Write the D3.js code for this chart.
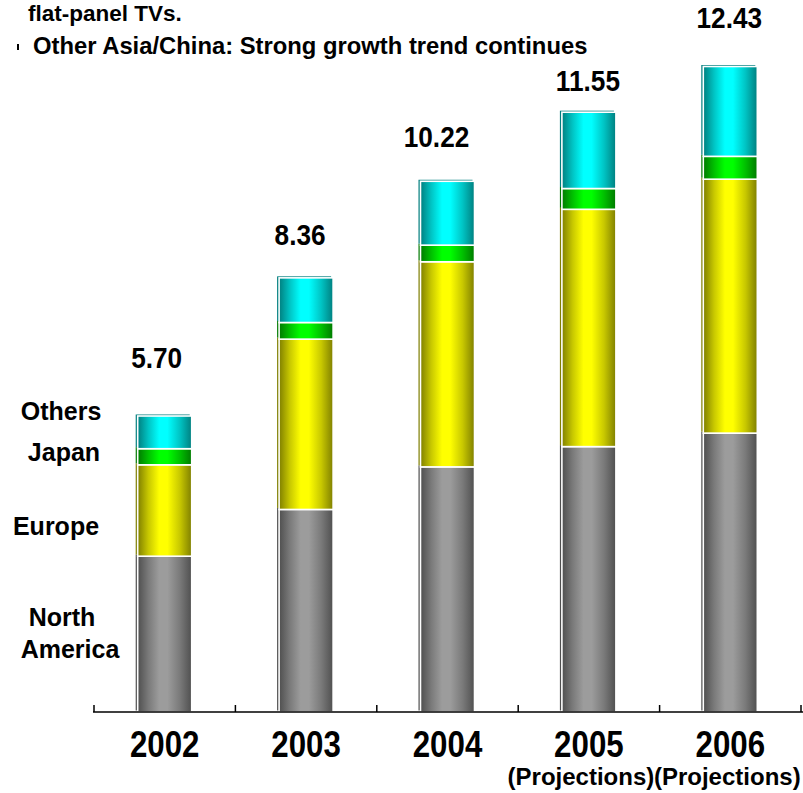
<!DOCTYPE html>
<html>
<head>
<meta charset="utf-8">
<script src="https://cdn.jsdelivr.net/npm/d3@7"></script>
<style>
  html, body { margin: 0; padding: 0; background: #fff; }
  text { font-family: "Liberation Sans", Arial, Helvetica, sans-serif; font-weight: bold; fill: #000; }
</style>
</head>
<body>
<svg id="chart" width="803" height="793"></svg>
<script>
// Shipments by region (stacked bottom to top)
const years = ["2002", "2003", "2004", "2005", "2006"];
const yearNotes = ["", "", "", "(Projections)", "(Projections)"];
const regions = ["northAmerica", "europe", "japan", "others"];
const northAmerica = [3.00, 3.90, 4.72, 5.11, 5.37];
const europe       = [1.76, 3.28, 3.95, 4.57, 4.89];
const japan        = [0.31, 0.32, 0.32, 0.40, 0.44];
const others       = [0.63, 0.86, 1.23, 1.47, 1.73];
const totalLabels  = ["5.70", "8.36", "10.22", "11.55", "12.43"];
const regionLabels = [["Others"], ["Japan"], ["Europe"], ["North", "America"]];
const headerLines  = ["flat-panel TVs.", "Other Asia/China: Strong growth trend continues"];

const rows = years.map((y, i) => ({
  year: y,
  northAmerica: northAmerica[i],
  europe: europe[i],
  japan: japan[i],
  others: others[i]
}));

const svg = d3.select("#chart");

const x = d3.scaleBand().domain(years).range([94, 801])
  .paddingInner(0.618).paddingOuter(0.309);
const y = d3.scaleLinear().domain([0, d3.max(rows, r => r.northAmerica + r.europe + r.japan + r.others)])
  .range([712, 66.5]);

// cylinder-like shading for each region
const shades = {
  northAmerica: { dark: "#4f4f4f", mid: "#7a7a7a", light: "#9c9c9c" },
  europe:       { dark: "#7f7f00", mid: "#c8c800", light: "#ffff00" },
  japan:        { dark: "#007a00", mid: "#00c000", light: "#00ff00" },
  others:       { dark: "#007f7f", mid: "#00c4c4", light: "#00ffff" }
};
const defs = svg.append("defs");
regions.forEach(k => {
  const s = shades[k];
  const g = defs.append("linearGradient").attr("id", "grad-" + k)
    .attr("x1", "0%").attr("x2", "100%").attr("y1", "0%").attr("y2", "0%");
  [[0, s.dark], [0.2, s.mid], [0.4, s.light], [0.55, s.light], [0.78, s.mid], [1, s.dark]]
    .forEach(([o, c]) => g.append("stop").attr("offset", o).attr("stop-color", c));
});

const stack = d3.stack().keys(regions);
const series = stack(rows);

const layers = svg.append("g").selectAll("g").data(series).join("g");

// thin dark edge behind each block
layers.selectAll("rect.edge").data(d => d.map(p => ({ key: d.key, p })))
  .join("rect").attr("class", "edge")
  .attr("x", d => x(d.p.data.year) - 2)
  .attr("y", d => y(d.p[1]) - 1.5)
  .attr("width", d => x.bandwidth())
  .attr("height", d => y(d.p[0]) - y(d.p[1]))
  .attr("fill", d => shades[d.key].dark);

layers.selectAll("rect.block").data(d => d.map(p => ({ key: d.key, p })))
  .join("rect").attr("class", "block")
  .attr("x", d => x(d.p.data.year))
  .attr("y", d => y(d.p[1]))
  .attr("width", x.bandwidth())
  .attr("height", d => y(d.p[0]) - y(d.p[1]))
  .attr("fill", d => "url(#grad-" + d.key + ")")
  .attr("stroke", "#fff").attr("stroke-width", 1.6);

// total value labels above each bar
const totalShift = [[-8, -48], [-6, -33], [-11, -34], [-1, -21], [-1, -39]];
svg.append("g").selectAll("text").data(series[series.length - 1])
  .join("text")
  .attr("transform", (d, i) =>
    `translate(${x(d.data.year) + x.bandwidth() / 2 + totalShift[i][0]},${y(d[1]) + totalShift[i][1]}) scale(0.97,1.1)`)
  .attr("text-anchor", "middle")
  .attr("font-size", 27)
  .text((d, i) => totalLabels[i]);

// baseline with tick marks between categories
const step = x.step();
const gap = step - x.bandwidth();
const bounds = years.map(yr => x(yr) - gap / 2).concat([x(years[years.length - 1]) + x.bandwidth() + gap / 2]);
const axis = svg.append("g");
axis.append("line").attr("x1", 93).attr("x2", 803).attr("y1", y(0)).attr("y2", y(0))
  .attr("stroke", "#000").attr("stroke-width", 1.5);
axis.selectAll("line.tick").data(bounds).join("line").attr("class", "tick")
  .attr("x1", d => d).attr("x2", d => d)
  .attr("y1", y(0)).attr("y2", y(0) - 7)
  .attr("stroke", "#000").attr("stroke-width", 1.5);

axis.selectAll("text.year").data(years).join("text").attr("class", "year")
  .attr("transform", d => `translate(${x(d) + x.bandwidth() / 2},757) scale(0.92,1.08)`)
  .attr("text-anchor", "middle")
  .attr("font-size", 34)
  .text(d => d);

const noteShift = [0, 0, 0, -8, -3];
axis.selectAll("text.note").data(years).join("text").attr("class", "note")
  .attr("x", (d, i) => x(d) + x.bandwidth() / 2 + noteShift[i])
  .attr("y", 785)
  .attr("text-anchor", "middle")
  .attr("font-size", 24)
  .text((d, i) => yearNotes[i]);

// region names on the left
const regionPos = [[61, 420], [64, 461], [56, 535], [62, 626]];
regionLabels.forEach((lines, i) => {
  const t = svg.append("text")
    .attr("x", regionPos[i][0]).attr("y", regionPos[i][1])
    .attr("text-anchor", "middle").attr("font-size", 25);
  lines.forEach((ln, j) => {
    t.append("tspan").attr("x", j === 0 ? regionPos[i][0] : regionPos[i][0] + 8)
      .attr("dy", j === 0 ? 0 : 32).text(ln);
  });
});

// header text
svg.append("text").attr("x", 28).attr("y", 21).attr("font-size", 22.5).text(headerLines[0]);
svg.append("text").attr("x", 33).attr("y", 54).attr("font-size", 23.8).text(headerLines[1]);
svg.append("rect").attr("x", 17).attr("y", 44).attr("width", 2).attr("height", 6).attr("fill", "#000");
</script>
</body>
</html>
